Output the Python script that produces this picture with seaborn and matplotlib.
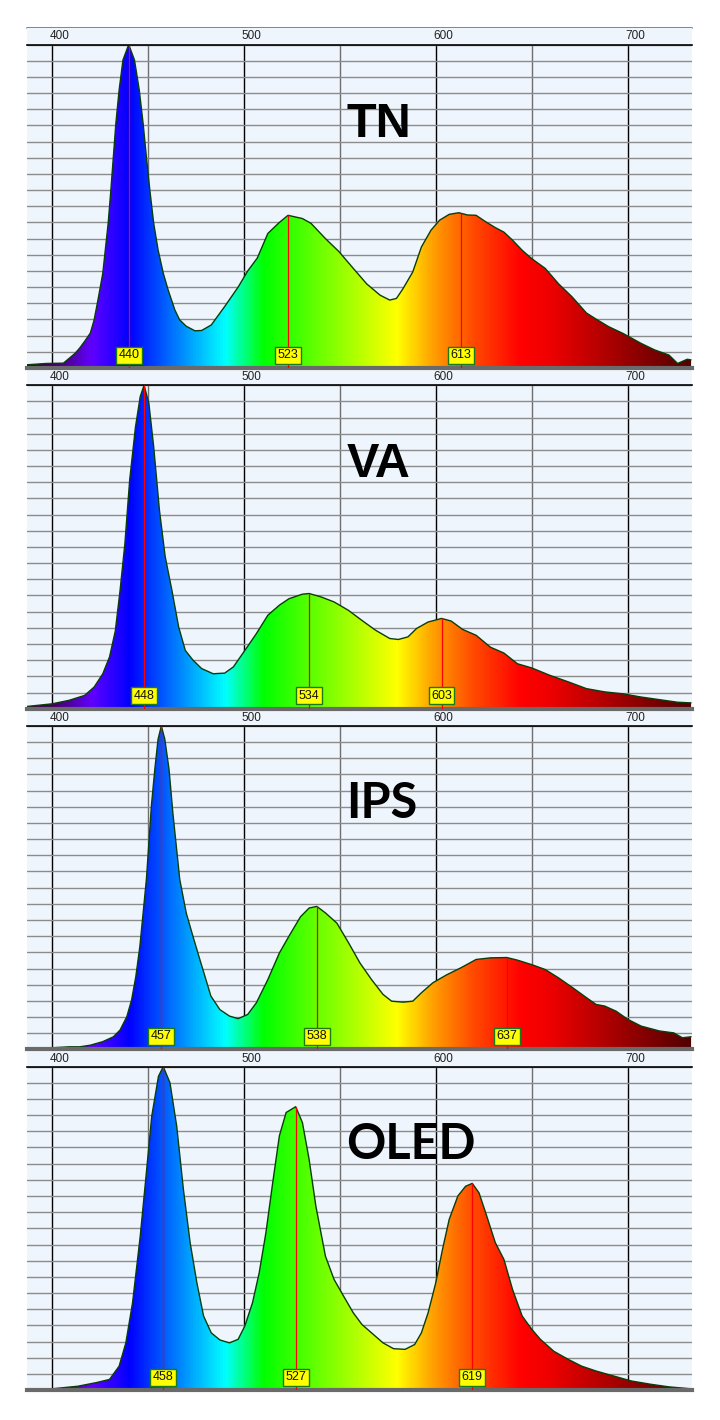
import numpy as np
import matplotlib
matplotlib.use("Agg")
import matplotlib.pyplot as plt
import seaborn as sns
from matplotlib.colors import LinearSegmentedColormap, Normalize
from matplotlib.patches import Polygon, Rectangle
from matplotlib.lines import Line2D
from matplotlib.transforms import ScaledTranslation

# spectra (wavelength in nm, relative intensity in %)
tn_nm = [387, 397, 406, 409, 412, 414.5, 417, 420, 422, 424, 426.5, 428, 429.3, 430.7, 432, 433.3,
         435, 437, 440, 443, 445.5, 447.5, 449.2, 451, 453, 455.3, 458, 460.5, 464, 466.5, 470,
         474.5, 478, 483, 490, 497, 502, 507, 512.5, 518.5, 523, 530.5,
         535, 542.5, 549.5, 557, 564, 571, 576, 579.5, 583, 588, 592.5, 597.5, 602, 607, 612, 616.5,
         621, 626, 631, 635.5, 640, 645, 650, 657, 664, 671, 678.5, 683, 690, 697.5, 707, 714,
         721.5, 726, 731, 733]
tn_val = [1.0, 1.4, 1.5, 3, 4.5, 6.2, 8.2, 10.8, 14.9, 21.1, 29.3, 37.6, 44.8, 55, 65.3, 75.6,
          85.9, 95.2, 100, 95.2, 85.9, 75.6, 65.3, 55, 44.8, 36.5, 29.3, 24.2, 18, 14.9, 12.9,
          11.5, 11.6, 13.3, 19, 25, 30, 34, 41.6, 45, 47.2, 46.2,
          44.7, 40, 36, 30.8, 26, 22.5, 21, 21.5, 24.6, 29.7, 37.4, 42.6, 45.7, 47.5, 48, 47.3,
          47.2, 45.2, 43.4, 42, 39.5, 36.4, 33.8, 30.8, 26, 22, 17, 15.3, 12.8, 10.7, 7.6, 5.6,
          4, 1.4, 2.7, 2.5]
tn_peaks = [440, 523, 613]

va_nm = [387, 400, 409, 417, 422, 426.5, 430, 433, 435.5, 438, 440.5, 443.5, 446, 448, 450.5, 453,
         456, 459, 462.5, 466, 469.5, 473.5, 478, 484, 490, 494.5, 500.5, 506.5, 512.5, 518.5, 523.5,
         530.5, 534, 540, 547, 554.5, 561.5, 568.5, 576, 580.5, 585.5, 590, 596, 603, 608, 614, 621,
         628.5, 635.5, 642.5, 650, 659.5, 669, 678.5, 688, 697.5, 707, 716.5, 726, 733]
va_val = [0.7, 1.5, 2.6, 4.1, 6.7, 10.8, 16, 24, 36.6, 51, 70.7, 87, 96.5, 100, 94.4, 81,
          61.4, 47, 36.6, 25.3, 18, 15, 12.4, 10.8, 11, 12.9, 18, 23.2, 28.9, 32, 34,
          35.4, 35.6, 34.6, 33, 30.4, 27.3, 24.3, 21.7, 21.4, 22.2, 24.8, 26.8, 27.9, 27.1, 24.5, 22.7,
          19, 17.2, 13.9, 12.6, 10.3, 8.3, 6.2, 5.2, 4.6, 3.6, 2.8, 2, 1.8]
va_peaks = [448, 534, 603]

ips_nm = [387, 400, 409, 414.5, 420, 426.5, 432, 435.5, 439, 441.5, 443.7, 445.8, 447.5, 449.2,
          450.4, 451.8, 453.6, 455.3, 457, 458.8, 461, 463, 464.8, 466.6, 470, 473.5, 476.6, 479,
          482.8, 487.5, 492.5, 497, 502, 506.5, 512.5, 518.5, 523.5, 529.5, 534, 538,
          542.5, 548.5, 554.5, 560.5, 566.5, 572.5, 577, 583, 588, 592.5, 598.5, 605.5, 613, 621,
          628.5, 637, 642.5, 650, 657, 664, 671.5, 678.5, 683.5, 688, 694, 700, 707, 716.5, 724,
          728.5, 733]
ips_val = [0.5, 0.5, 0.8, 0.8, 1.3, 2.4, 3.9, 6, 10.1, 15.3, 22.5, 31.8, 42.1, 52.5,
           62.8, 75.2, 86.6, 95.9, 100, 95.9, 86.6, 73.1, 62.8, 52.5, 42.1, 34.9, 28.7, 24,
           16.5, 12.3, 10.3, 9.5, 10.8, 14.4, 21.6, 29.8, 35, 41, 43.7, 44.2,
           42.2, 39, 33, 26.7, 21.6, 17, 14.9, 14.6, 14.9, 17.5, 20.6, 23, 25.2, 27.8,
           28.3, 28.4, 27.6, 26.2, 24.7, 22.1, 19, 16, 13.9, 13.4, 11.8, 9.3, 7.2, 5.7, 5.1,
           3.6, 3.9]
ips_peaks = [457, 538, 637]

oled_nm = [387, 400, 413.5, 423, 430, 435, 438.5, 442, 446, 449, 452, 455.5, 458, 461.5, 465, 468.5,
           472, 475.5, 479, 483, 487.5, 492.5, 497, 500.5, 504.5, 508, 511.5, 515, 518.5, 522, 527,
           530.5, 534, 537.5, 542.5, 547, 552, 557, 561.5, 566.5, 572.5, 578, 584, 589, 592.5, 596,
           600, 603.5, 607, 611.5, 615.5, 619, 622.5, 626, 631, 635.5, 640, 645, 650, 654.5, 661.5,
           669, 676, 683.5, 693, 702, 712, 721.5, 733]
oled_val = [0.2, 0.4, 1.2, 2.3, 3.3, 7.4, 14.6, 27, 47.6, 66, 84.7, 97, 100, 95, 81.6, 62,
            45.6, 33.2, 22.9, 17.7, 15.5, 14.6, 15.7, 19.8, 27, 36.3, 48.7, 64, 78.6, 85.8, 87.6,
            82.7, 71.3, 56.9, 41.4, 34.2, 29, 23.9, 20.3, 17.7, 14.6, 12.8, 12.6, 14.1, 17.7, 23.9,
            33.2, 43.5, 52.8, 60, 63, 63.9, 61, 54.8, 45.6, 40.4, 31.1, 22.9, 18.8, 15.7, 12,
            9.5, 7.4, 5.9, 4.3, 2.8, 1.8, 1, 0.4]
oled_peaks = [458, 527, 619]

titles = ["TN", "VA", "IPS", "OLED"]
title_fonts = ["Liberation Sans", "Liberation Sans", "Lato", "Lato"]
tick_values = [400, 500, 600, 700]
minor_ticks = [450, 550, 650]

# wavelength -> colour, for the spectrum fill
spec_stops = [(385, "#2a0038"), (400, "#45005f"), (420, "#6000ff"), (440, "#0000ff"),
              (490, "#00ffff"), (510, "#00ff00"), (580, "#ffff00"), (600, "#ff9a00"),
              (620, "#ff4a00"), (645, "#ff0000"), (660, "#ee0000"), (735, "#4e0000")]
lo, hi = spec_stops[0][0], spec_stops[-1][0]
spec_cmap = LinearSegmentedColormap.from_list(
    "spectrum", [((w - lo) / (hi - lo), c) for w, c in spec_stops])

sns.set_style("white")
plt.rcParams["font.family"] = ["Liberation Sans", "DejaVu Sans"]

bg = "#eef5fc"
W, H = 720, 1420
fig = plt.figure(figsize=(7.2, 14.2), dpi=100)
fig.patch.set_facecolor("white")

series = [(tn_nm, tn_val, tn_peaks), (va_nm, va_val, va_peaks),
          (ips_nm, ips_val, ips_peaks), (oled_nm, oled_val, oled_peaks)]

for i, (nm, val, peaks) in enumerate(series):
    top = 28 + i * 340.7
    ptop = top + 16.5
    pbot = top + 340
    ax = fig.add_axes([27 / W, 1 - pbot / H, 665 / W, (pbot - ptop) / H])
    ax.set_facecolor(bg)
    fig.patches.append(Rectangle((27 / W, 1 - ptop / H), 665 / W, 16.5 / H,
                                 transform=fig.transFigure, facecolor=bg,
                                 edgecolor="none", zorder=-1))
    if i == 0:
        fig.add_artist(Line2D([27 / W, 692 / W], [1 - top / H] * 2, color="#707070",
                              lw=1.2, zorder=-1))

    # grid
    ax.set_xticks(tick_values)
    ax.set_xticks(minor_ticks, minor=True)
    ax.set_yticks(np.arange(0, 101, 5))
    ax.set_axisbelow(True)
    ax.grid(True, axis="x", which="major", color="black", lw=1)
    ax.grid(True, axis="x", which="minor", color="#6e6e6e", lw=1)
    ax.grid(True, axis="y", which="major", color="#8c8c8c", lw=1)
    ax.xaxis.tick_top()
    ax.tick_params(axis="x", which="both", length=0, pad=1.5, labelsize=8.5, labelcolor="#222222")
    ax.tick_params(axis="x", which="minor", labeltop=False)
    ax.tick_params(axis="y", length=0, labelleft=False)
    off = ScaledTranslation(-0.02, 0, fig.dpi_scale_trans)
    for lab in ax.get_xticklabels():
        lab.set_ha("left")
        lab.set_transform(lab.get_transform() + off)

    for s in ["left", "right"]:
        ax.spines[s].set_visible(False)
    ax.spines["top"].set_color("black")
    ax.spines["top"].set_linewidth(1.2)
    ax.spines["bottom"].set_color("#6a6a6a")
    ax.spines["bottom"].set_linewidth(3)

    # spectrum fill, clipped to the curve
    grad = np.linspace(lo, hi, 800).reshape(1, -1)
    im = ax.imshow(grad, extent=[lo, hi, 0, 100], aspect="auto", cmap=spec_cmap,
                   norm=Normalize(lo, hi), origin="lower", zorder=1, interpolation="bilinear")
    verts = list(zip(nm, val)) + [(nm[-1], 0), (nm[0], 0)]
    clip = Polygon(verts, closed=True, facecolor="none", edgecolor="none",
                   transform=ax.transData)
    ax.add_patch(clip)
    im.set_clip_path(clip)

    sns.lineplot(x=nm, y=val, ax=ax, color="#0b3d0b", lw=1, zorder=2)
    ax.set_xlabel("")
    ax.set_ylabel("")
    ax.set_xlim(387, 733.5)
    ax.set_ylim(0, 100)

    # peak markers
    for p in peaks:
        h = np.interp(p, nm, val)
        ax.vlines(p, 0, h, color="red", lw=0.9, zorder=3)
        ax.text(p, 4, str(p), ha="center", va="center", fontsize=9, color="#111111",
                zorder=4, bbox=dict(boxstyle="square,pad=0.2", facecolor="#ffff00",
                                    edgecolor="#1a7a1a", lw=1))

    ax.text(553.5, 71.5, titles[i], ha="left", va="baseline", fontsize=35,
            fontweight="bold", color="black", family=[title_fonts[i], "DejaVu Sans"], zorder=5)

fig.savefig("out.png", dpi=100, facecolor="white")
